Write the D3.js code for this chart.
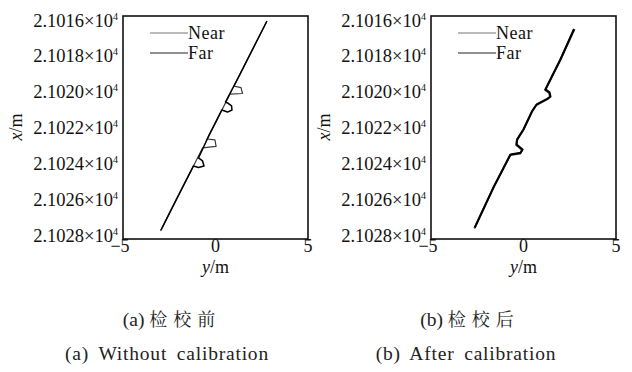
<!DOCTYPE html>
<html>
<head>
<meta charset="utf-8">
<script src="https://cdn.jsdelivr.net/npm/d3@7"></script>
<style>
  html, body { margin: 0; padding: 0; background: #fff; }
  svg { display: block; }
</style>
</head>
<body>
<svg id="chart" width="632" height="372"></svg>
<script>
// ---------- data ----------
const xTicks = [-5, 0, 5];
const yTicks = [21016, 21018, 21020, 21022, 21024, 21026, 21028];
const seriesNames = ["Near", "Far"];
const captionsCN = ["(a) 检校前", "(b) 检校后"];
const captionsEN = ["(a) Without calibration", "(b) After calibration"];

// (a) before calibration : lateral y [m], longitudinal x [m]
const nearBeforeY = [-2.97, -2.12, -1.30, -0.70, 0.03, -0.03, -0.45, 0.02, 0.78, 1.46, 1.38, 1.00, 1.82, 2.76];
const nearBeforeX = [21027.57, 21025.90, 21024.29, 21023.10, 21023.02, 21022.67, 21022.62, 21021.71, 21020.20, 21020.17, 21019.85, 21019.77, 21018.15, 21016.32];
const farBeforeY = [-2.95, -2.11, -1.19, -0.92, -0.62, -0.70, -0.92, -0.34, 0.34, 0.65, 0.89, 0.87, 0.65, 0.54, 1.30, 2.78];
const farBeforeX = [21027.52, 21025.85, 21024.07, 21024.15, 21024.07, 21023.80, 21023.64, 21022.40, 21021.06, 21021.17, 21021.06, 21020.84, 21020.68, 21020.63, 21019.18, 21016.27];

// (b) after calibration
const nearAfterY = [-2.66, -1.64, -0.72, -0.18, -0.07, -0.39, -0.36, -0.02, 0.45, 0.69, 1.26, 1.44, 1.39, 1.17, 1.98, 2.75];
const nearAfterX = [21027.43, 21025.26, 21023.48, 21023.40, 21023.21, 21022.94, 21022.67, 21022.14, 21021.15, 21020.79, 21020.49, 21020.36, 21020.14, 21019.98, 21018.37, 21016.72];
const farAfterY = [-2.63, -1.62, -0.70, -0.16, -0.05, -0.37, -0.34, 0.00, 0.47, 0.71, 1.28, 1.46, 1.41, 1.19, 2.00, 2.73];
const farAfterX = [21027.38, 21025.22, 21023.45, 21023.36, 21023.18, 21022.91, 21022.64, 21022.11, 21021.12, 21020.76, 21020.46, 21020.33, 21020.11, 21019.95, 21018.34, 21016.70];

// ---------- drawing ----------
const svg = d3.select("#chart");
const SERIF = '"Liberation Serif"';
const CJK = '"Noto Serif CJK SC"';

const panels = [
  { left: 123, right: 308, capCN: 172, capEN: 167, near: [nearBeforeY, nearBeforeX], far: [farBeforeY, farBeforeX], width: [1.2, 1.5], cn: captionsCN[0], en: captionsEN[0] },
  { left: 431, right: 616, capCN: 470, capEN: 466, near: [nearAfterY, nearAfterX], far: [farAfterY, farAfterX], width: [2.0, 2.0], cn: captionsCN[1], en: captionsEN[1] }
];
const plotTop = 16, plotBottom = 239;

function txt(sel, size) {
  return sel.append("text").style("font-family", SERIF).style("font-size", size + "px").attr("fill", "#111");
}

panels.forEach(p => {
  const x = d3.scaleLinear().domain([-5, 5]).range([p.left, p.right]);
  const y = d3.scaleLinear().domain([21016, 21028]).range([plotTop, plotBottom]);
  // tick labels in the scanned figure sit on a slightly compressed spacing
  const yLab = d3.scaleLinear().domain([21016, 21028]).range([26.5, 242]);
  const g = svg.append("g");

  // data lines
  const line = d3.line().x(d => x(d[0])).y(d => y(d[1]));
  const nearPts = p.near[0].map((v, i) => [v, p.near[1][i]]);
  const farPts = p.far[0].map((v, i) => [v, p.far[1][i]]);
  g.append("path").datum(nearPts).attr("d", line)
    .attr("fill", "none").attr("stroke", "#3a3a3a").attr("stroke-width", p.width[0]).attr("stroke-linejoin", "round");
  g.append("path").datum(farPts).attr("d", line)
    .attr("fill", "none").attr("stroke", "#000").attr("stroke-width", p.width[1]).attr("stroke-linejoin", "round");

  // frame
  g.append("rect").attr("x", p.left).attr("y", plotTop)
    .attr("width", p.right - p.left).attr("height", plotBottom - plotTop)
    .attr("fill", "none").attr("stroke", "#111").attr("stroke-width", 1.6);

  // y tick labels
  yTicks.forEach(t => {
    const tx = txt(g, 18.5).attr("x", p.left - 5).attr("y", yLab(t)).attr("text-anchor", "end");
    tx.append("tspan").text(d3.format(".4f")(t / 10000) + "×10");
    tx.append("tspan").style("font-size", "10px").attr("dy", -7).text("4");
  });

  // x tick labels
  xTicks.forEach(t => {
    txt(g, 18).attr("x", x(t) - (t < 0 ? 3 : 0)).attr("y", plotBottom + 13)
      .attr("text-anchor", "middle").text(t < 0 ? "\u2212" + Math.abs(t) : String(t));
  });

  // axis titles
  const xt = txt(g, 18).attr("x", (p.left + p.right) / 2).attr("y", 273).attr("text-anchor", "middle");
  xt.append("tspan").style("font-style", "italic").text("y");
  xt.append("tspan").text("/m");

  const yt = txt(g, 18).attr("transform", `translate(${p.left - 101},${127}) rotate(-90)`).attr("text-anchor", "middle");
  yt.append("tspan").style("font-style", "italic").text("x");
  yt.append("tspan").text("/m");

  // legend
  const lx0 = p.left + 27, lx1 = p.left + 65;
  seriesNames.forEach((n, i) => {
    const ly = 33 + i * 20;
    g.append("line").attr("x1", lx0).attr("x2", lx1).attr("y1", ly).attr("y2", ly)
      .attr("stroke", i === 0 ? "#777" : "#222").attr("stroke-width", 1.1);
    txt(g, 18).attr("x", lx1).attr("y", ly + 6).attr("letter-spacing", 0.5).text(n);
  });

  // captions
  const m = p.cn.match(/^(\(.\)) (.*)$/);
  const c1 = txt(g, 19.5).attr("x", p.capCN).attr("y", 326)
    .attr("text-anchor", "middle").attr("fill", "#222");
  c1.append("tspan").text(m[1] + " ");
  c1.append("tspan").style("font-family", CJK).style("font-size", "18px").attr("letter-spacing", 6).text(m[2]);
  txt(g, 19.5).attr("x", p.capEN).attr("y", 360)
    .attr("text-anchor", "middle").attr("fill", "#222")
    .attr("letter-spacing", 0.8).attr("word-spacing", 4).text(p.en);
});
</script>
</body>
</html>
